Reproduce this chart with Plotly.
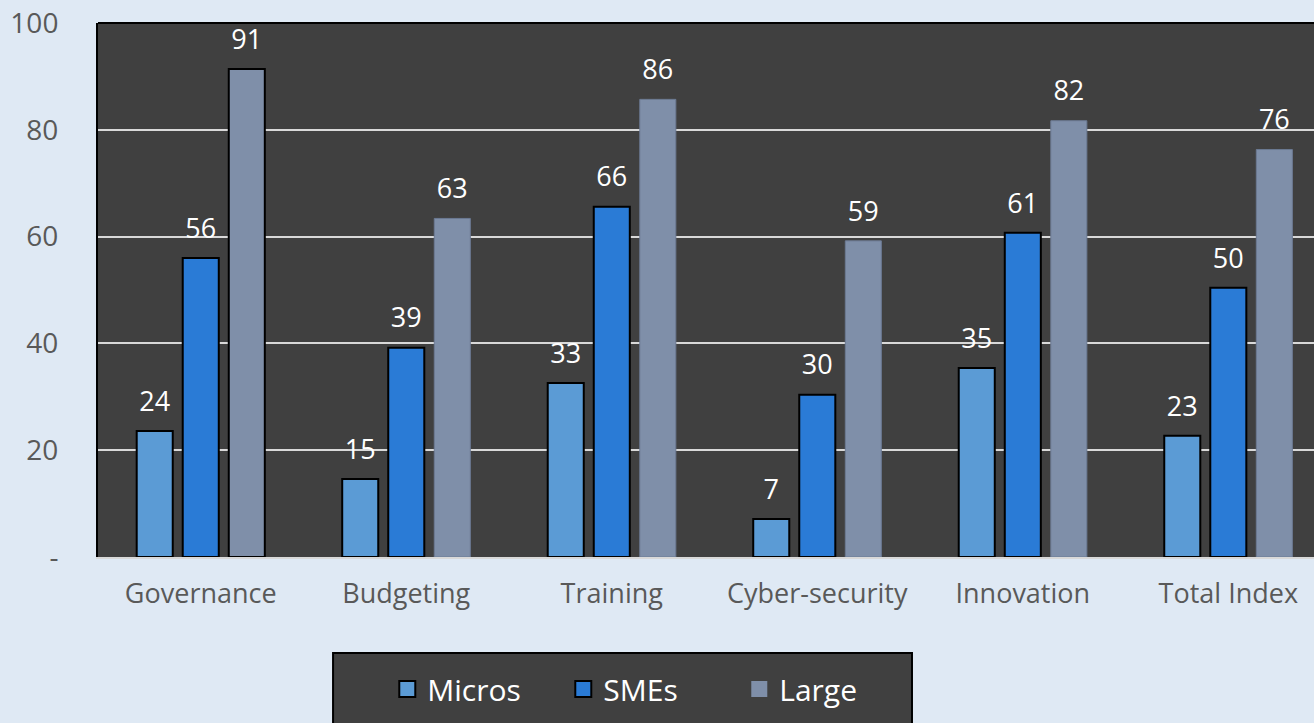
import plotly.graph_objects as go

categories = ["Governance", "Budgeting", "Training", "Cyber-security", "Innovation", "Total Index"]
micros = [23.6, 14.6, 32.6, 7.1, 35.4, 22.7]
smes = [56.0, 39.2, 65.6, 30.4, 60.7, 50.4]
large = [91.4, 63.4, 85.7, 59.2, 81.7, 76.3]
series_names = ["Micros", "SMEs", "Large"]
y_tickvals = [0, 20, 40, 60, 80, 100]
y_ticktext = ["-", "20", "40", "60", "80", "100"]

colors = ["#5b9bd5", "#2a7bd6", "#7f8fa9"]
line_colors = [["#000000"] * 6, ["#000000"] * 6, ["#000000"] + ["#6c7a93"] * 5]
line_widths = [[2] * 6, [2] * 6, [2] + [1] * 5]
legend_lines = [("#000000", 2), ("#000000", 2), ("#7f8fa9", 0)]

FONT = "Open Sans"
BG = "#dfe9f4"
series = [micros, smes, large]

fig = go.Figure()

for name, vals, col, lc, lw in zip(series_names, series, colors, line_colors, line_widths):
    fig.add_trace(go.Bar(
        x=categories, y=vals, name=name, showlegend=False,
        marker=dict(color=col, line=dict(color=lc, width=lw)),
        hoverinfo="x+y+name",
    ))

for name, vals in zip(series_names, series):
    fig.add_trace(go.Scatter(
        x=categories, y=vals, mode="markers+text", showlegend=False,
        text=[f"{v:.0f}" for v in vals], textposition="top center",
        textfont=dict(family=FONT, size=27, color="#ffffff"),
        marker=dict(size=20, opacity=0), hoverinfo="skip", name=name,
    ))

for name, col, (lc, lw) in zip(series_names, colors, legend_lines):
    fig.add_trace(go.Scatter(
        x=[None], y=[None], mode="markers", name=name,
        marker=dict(symbol="square", size=18, color=col, line=dict(color=lc, width=lw)),
        xaxis="x2", yaxis="y2", hoverinfo="skip",
    ))

fig.update_layout(
    width=1314, height=723,
    margin=dict(l=98, r=0, t=23, b=166),
    paper_bgcolor=BG,
    plot_bgcolor="#404040",
    barmode="group", bargap=0.328, bargroupgap=0.217,
    scattermode="group", scattergap=0.328,
    font=dict(family=FONT, color="#595959"),
    xaxis=dict(
        range=[-0.5, 5.417], showgrid=False, showline=True, linecolor="#d9d9d9", linewidth=2,
        ticks="outside", ticklen=12, tickcolor="rgba(0,0,0,0)",
        tickfont=dict(family=FONT, size=27, color="#595959"), fixedrange=True,
    ),
    yaxis=dict(
        range=[0, 100], tickvals=y_tickvals, ticktext=y_ticktext,
        showgrid=True, gridcolor="#d9d9d9", gridwidth=2, zeroline=False,
        showline=True, linecolor="#000000", linewidth=2,
        ticks="outside", ticklen=32, tickcolor="rgba(0,0,0,0)",
        tickfont=dict(family=FONT, size=28, color="#595959"), fixedrange=True,
    ),
    xaxis2=dict(visible=False, overlaying="x", range=[0, 1]),
    yaxis2=dict(visible=False, overlaying="y", range=[0, 1]),
    legend=dict(
        orientation="h", x=0.455, xanchor="center", y=-0.247, yanchor="middle",
        bgcolor="rgba(0,0,0,0)", font=dict(family=FONT, size=30, color="#ffffff"),
        entrywidth=131, itemclick=False, itemdoubleclick=False,
    ),
    shapes=[
        dict(type="rect", xref="paper", yref="paper", x0=0.1933, x1=0.6694, y0=-0.36, y1=-0.18,
             fillcolor="#404040", line=dict(color="#000000", width=2), layer="below"),
        dict(type="line", xref="paper", yref="paper", x0=0, x1=1, y0=1, y1=1,
             line=dict(color="#000000", width=2), layer="above"),
    ],
)

fig.write_html(
    "out.html",
    config={"displayModeBar": False},
    post_script=f"document.body.style.margin='0';document.body.style.background='{BG}';"
                "document.body.style.overflow='hidden';",
)
